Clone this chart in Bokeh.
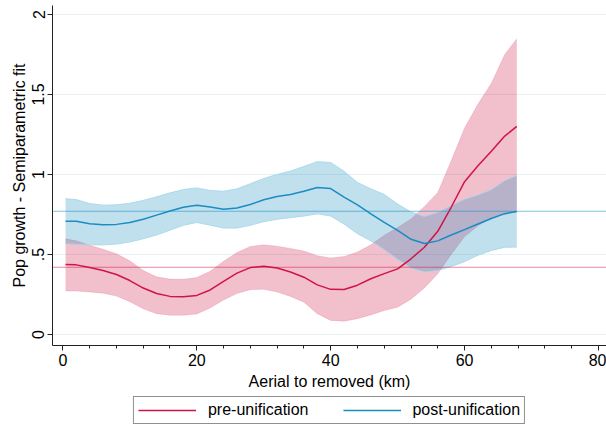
from bokeh.plotting import figure
from bokeh.models import Span, Legend, LegendItem, FixedTicker, Range1d
from bokeh.layouts import column
from bokeh.embed import file_html
from bokeh.resources import INLINE

dist = [0.4, 2, 4, 6, 8, 10, 12, 14, 16, 18, 20, 22, 24, 26, 28, 30, 32, 34,
        36, 38, 40, 42, 44, 46, 48, 50, 52, 54, 56, 58, 60, 62, 64, 66, 67.8]

pre_fit = [0.437, 0.435, 0.418, 0.400, 0.375, 0.337, 0.290, 0.256, 0.238, 0.235,
           0.244, 0.278, 0.332, 0.383, 0.418, 0.427, 0.415, 0.390, 0.358, 0.310,
           0.282, 0.281, 0.308, 0.348, 0.380, 0.410, 0.473, 0.545, 0.645, 0.795,
           0.955, 1.055, 1.145, 1.240, 1.300]
pre_hi = [0.598, 0.585, 0.557, 0.533, 0.505, 0.460, 0.400, 0.360, 0.346, 0.345,
          0.356, 0.395, 0.457, 0.512, 0.550, 0.560, 0.552, 0.538, 0.521, 0.492,
          0.478, 0.487, 0.515, 0.560, 0.620, 0.668, 0.722, 0.800, 0.888, 1.085,
          1.290, 1.440, 1.570, 1.750, 1.848]
pre_lo = [0.271, 0.271, 0.266, 0.258, 0.240, 0.205, 0.160, 0.130, 0.120, 0.120,
          0.128, 0.165, 0.215, 0.256, 0.280, 0.282, 0.265, 0.238, 0.202, 0.130,
          0.088, 0.083, 0.098, 0.122, 0.150, 0.170, 0.220, 0.290, 0.380, 0.500,
          0.610, 0.680, 0.728, 0.752, 0.765]

post_fit = [0.708, 0.707, 0.692, 0.685, 0.688, 0.700, 0.720, 0.746, 0.772, 0.795,
            0.807, 0.796, 0.783, 0.790, 0.812, 0.842, 0.862, 0.875, 0.895, 0.918,
            0.912, 0.858, 0.810, 0.754, 0.700, 0.650, 0.595, 0.568, 0.585, 0.622,
            0.655, 0.690, 0.725, 0.755, 0.769]
post_hi = [0.848, 0.843, 0.818, 0.808, 0.810, 0.820, 0.838, 0.860, 0.885, 0.906,
           0.916, 0.900, 0.895, 0.910, 0.942, 0.975, 1.000, 1.021, 1.050, 1.080,
           1.075, 1.020, 0.950, 0.910, 0.875, 0.815, 0.765, 0.738, 0.762, 0.806,
           0.845, 0.872, 0.905, 0.962, 0.994]
post_lo = [0.567, 0.563, 0.560, 0.560, 0.565, 0.578, 0.598, 0.622, 0.652, 0.682,
           0.700, 0.683, 0.665, 0.665, 0.682, 0.705, 0.720, 0.730, 0.740, 0.754,
           0.740, 0.690, 0.630, 0.585, 0.530, 0.470, 0.415, 0.390, 0.400, 0.425,
           0.455, 0.495, 0.525, 0.545, 0.546]

pre_mean = 0.42
post_mean = 0.77

x_ticks = [0, 20, 40, 60, 80]
x_minor = [4, 8, 12, 16, 24, 28, 32, 36, 44, 48, 52, 56, 64, 68, 72, 76]
y_ticks = [0, 0.5, 1, 1.5, 2]
y_labels = {0: "0", 0.5: ".5", 1: "1", 1.5: "1.5", 2: "2"}
series_names = ["pre-unification", "post-unification"]

RED = "#cf1446"
BLUE = "#1a8cc2"
FONT = "Liberation Sans"

p = figure(width=606, height=395, output_backend="svg", toolbar_location=None,
           x_range=Range1d(-1.55, 81.2), y_range=Range1d(-0.069, 2.056),
           min_border_top=5, min_border_right=0, min_border_left=52,
           min_border_bottom=50)
p.outline_line_color = None
p.background_fill_color = "white"

# confidence bands
p.varea(x=dist, y1=pre_lo, y2=pre_hi, fill_color=RED, fill_alpha=0.27)
p.line(dist, pre_hi, line_color=RED, line_alpha=0.12, line_width=1)
p.line(dist, pre_lo, line_color=RED, line_alpha=0.12, line_width=1)
p.varea(x=dist, y1=post_lo, y2=post_hi, fill_color=BLUE, fill_alpha=0.27)
p.line(dist, post_hi, line_color="#a6d8ea", line_alpha=0.9, line_width=1)
p.line(dist, post_lo, line_color="#a6d8ea", line_alpha=0.9, line_width=1)

# mean reference lines
p.add_layout(Span(location=pre_mean, dimension="width", line_color=RED,
                  line_alpha=0.5, line_width=1))
p.add_layout(Span(location=post_mean, dimension="width", line_color=BLUE,
                  line_alpha=0.55, line_width=1))

p.line(dist, pre_fit, line_color=RED, line_width=1.5)
p.line(dist, post_fit, line_color=BLUE, line_width=1.5)

# axes
p.xaxis.ticker = FixedTicker(ticks=x_ticks, minor_ticks=x_minor)
p.yaxis.ticker = FixedTicker(ticks=y_ticks, minor_ticks=[])
p.yaxis.major_label_overrides = y_labels
p.yaxis.major_label_orientation = "vertical"
for ax in (p.xaxis[0], p.yaxis[0]):
    ax.axis_line_color = "#222222"
    ax.major_tick_line_color = "#222222"
    ax.minor_tick_line_color = "#222222"
    ax.major_tick_out = 5
    ax.major_tick_in = 0
    ax.minor_tick_out = 3
    ax.minor_tick_in = 0
    ax.major_label_text_font = FONT
    ax.major_label_text_font_size = "16px"
    ax.major_label_text_color = "black"
    ax.axis_label_text_font = FONT
    ax.axis_label_text_font_size = "16px"
    ax.axis_label_text_font_style = "normal"
    ax.axis_label_text_color = "black"
p.xaxis.axis_label = "Aerial to removed (km)"
p.yaxis.axis_label = "Pop growth - Semiparametric fit"
p.xaxis.major_label_standoff = 3
p.xaxis.axis_label_standoff = 4
p.yaxis.major_label_standoff = 3
p.yaxis.axis_label_standoff = 2

p.xgrid.grid_line_color = None
p.ygrid.grid_line_color = "#e6eff2"
p.ygrid.grid_line_width = 1.2

# legend strip below the chart
lg = figure(width=606, height=30, output_backend="svg", toolbar_location=None,
            x_range=Range1d(-10, -9), y_range=Range1d(-10, -9),
            min_border_top=0, min_border_bottom=0, min_border_left=50,
            min_border_right=0)
lg.axis.visible = False
lg.grid.visible = False
lg.outline_line_color = None
k_pre = lg.line(dist, pre_fit, line_color=RED, line_width=1.5)
k_post = lg.line(dist, post_fit, line_color=BLUE, line_width=1.5)
legend = Legend(items=[LegendItem(label=series_names[0], renderers=[k_pre]),
                       LegendItem(label=series_names[1], renderers=[k_post])],
                orientation="horizontal", location="center")
legend.label_text_font = FONT
legend.label_text_font_size = "16px"
legend.label_text_color = "black"
legend.border_line_color = "#222222"
legend.border_line_width = 1
legend.glyph_width = 58
legend.glyph_height = 16
legend.label_standoff = 12
legend.spacing = 34
legend.padding = 4
legend.margin = 0
lg.add_layout(legend)

open("out.html", "w").write(file_html(column(p, lg, spacing=0), INLINE))
